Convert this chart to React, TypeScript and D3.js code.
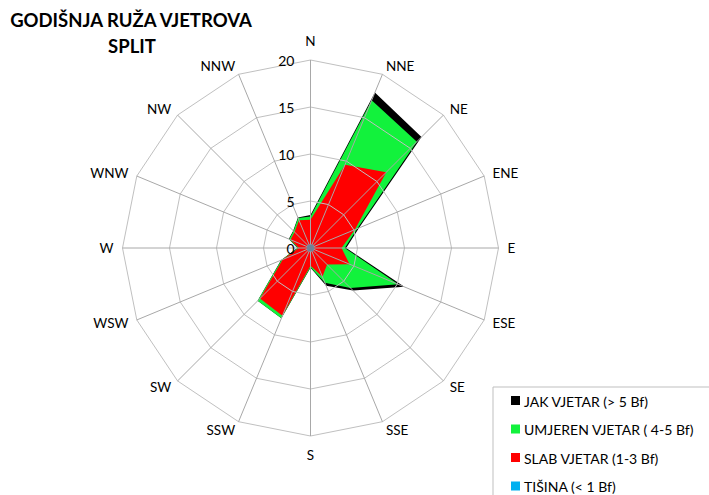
import * as d3 from 'd3';

const directions = ['N', 'NNE', 'NE', 'ENE', 'E', 'ESE', 'SE', 'SSE', 'S', 'SSW', 'SW', 'WSW', 'W', 'WNW', 'NW', 'NNW'];
const ticks = [0, 5, 10, 15, 20];

// values as plotted (cumulative %)
const jak = [3.5, 17.9, 16.7, 5.6, 3.8, 10.8, 6.4, 4.35, 2.1, 8.1, 7.95, 3.4, 1.4, 2.5, 2.6, 3.5];
const umjeren = [3.35, 17.0, 16.0, 5.4, 3.65, 10.1, 6.0, 4.0, 2.05, 8.1, 7.95, 3.35, 1.35, 2.45, 2.55, 3.45];
const slab = [3.0, 9.6, 11.4, 5.1, 3.3, 4.5, 2.5, 3.3, 1.9, 7.8, 7.6, 3.2, 1.25, 2.3, 2.4, 3.2];
const tisina = [0.4, 0.4, 0.4, 0.4, 0.4, 0.4, 0.4, 0.4, 0.4, 0.4, 0.4, 0.4, 0.4, 0.4, 0.4, 0.4];

const series = [
  { name: 'JAK VJETAR (> 5 Bf)', values: jak, color: '#000000' },
  { name: 'UMJEREN VJETAR ( 4-5 Bf)', values: umjeren, color: '#12f23c' },
  { name: 'SLAB VJETAR (1-3 Bf)', values: slab, color: '#ff0000' },
  { name: 'TIŠINA (< 1 Bf)', values: tisina, color: '#00b0f0' },
];

const W = 709, H = 495;
const cx = 310.5, cy = 248;
const font = 'Lato, "Open Sans", sans-serif';

export default function App() {
  const r = d3.scaleLinear().domain([0, 20]).range([0, 188]);
  const angle = d3.scalePoint<string>().domain([...directions, '']).range([0, 2 * Math.PI]);
  const ang = (d: string) => angle(d) as number;

  const radial = d3.lineRadial<number>()
    .angle((_, i) => ang(directions[i]))
    .radius(v => r(v))
    .curve(d3.curveLinearClosed);

  const ring = (v: number) => radial(directions.map(() => v)) as string;

  // labels sit just outside the outer ring; left/right ones anchored at their inner edge
  const dirLabel = (d: string) => {
    const a = ang(d);
    const s = Math.sin(a), c = Math.cos(a);
    if (Math.abs(s) < 1e-6) {
      const rr = r(20) + 19;
      return { x: 0, y: -rr * c, anchor: 'middle' };
    }
    const rr = r(20) + 9;
    return { x: rr * s, y: -rr * c, anchor: s > 0 ? 'start' : 'end' };
  };

  return (
    <svg width={W} height={H} style={{ position: 'absolute', left: 0, top: 0, background: '#fff' }}>
      <text x={131} y={27} textAnchor="middle" fontFamily={font} fontWeight="bold" fontSize={18.5} fill="#000">GODIŠNJA RUŽA VJETROVA</text>
      <text x={132} y={53} textAnchor="middle" fontFamily={font} fontWeight="bold" fontSize={18.5} fill="#000">SPLIT</text>

      <g transform={`translate(${cx},${cy})`}>
        {series.map(s => (
          <path key={s.name} d={radial(s.values) as string} fill={s.color} stroke="none" />
        ))}
        {ticks.filter(t => t > 0).map(t => (
          <path key={t} d={ring(t)} fill="none" stroke="#c0c0c0" strokeWidth={1} />
        ))}
        {directions.map(d => {
          const a = ang(d);
          return (
            <line key={d} x1={0} y1={0} x2={r(20) * Math.sin(a)} y2={-r(20) * Math.cos(a)} stroke="#a8a8a8" strokeWidth={1} />
          );
        })}
        <circle r={3.5} fill="#6f8296" />
        {ticks.map(t => (
          <text key={t} x={-16} y={-r(t)} textAnchor="end" dominantBaseline="central" fontFamily={font} fontSize={14} fill="#000">{t}</text>
        ))}
        {directions.map(d => {
          const p = dirLabel(d);
          return (
            <text key={d} x={p.x} y={p.y} textAnchor={p.anchor} dominantBaseline="central" fontFamily={font} fontSize={13.5} fill="#000">{d}</text>
          );
        })}
      </g>

      <g>
        <path d={`M${W},387H493V${H}`} fill="none" stroke="#bfbfbf" strokeWidth={1} />
        {series.map((s, i) => (
          <g key={s.name} transform={`translate(511,${401 + i * 28.5})`}>
            <rect x={0} y={-5} width={9} height={9} fill={s.color} />
            <text x={13} y={0} dominantBaseline="central" fontFamily={font} fontSize={14} fill="#000">{s.name}</text>
          </g>
        ))}
      </g>
    </svg>
  );
}
